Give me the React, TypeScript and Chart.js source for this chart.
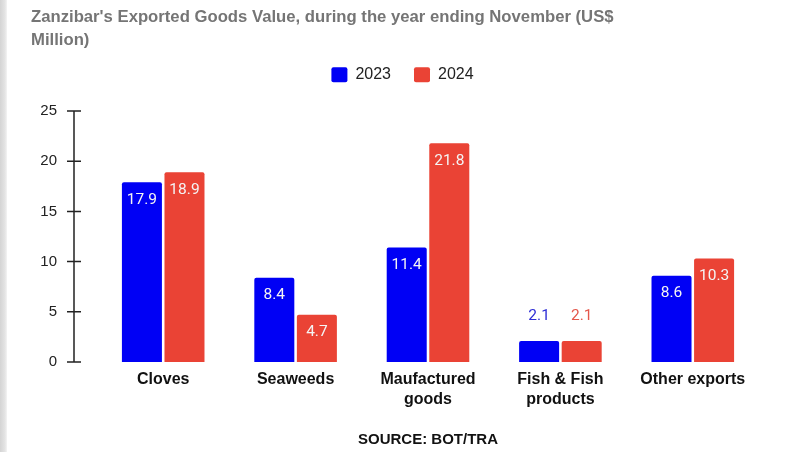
import React, { useEffect, useRef } from "react";
import { Chart, registerables } from "chart.js";

Chart.register(...registerables);

const categories: (string | string[])[] = [
  "Cloves",
  "Seaweeds",
  ["Maufactured", "goods"],
  ["Fish & Fish", "products"],
  "Other exports",
];
const seriesLabels = ["2023", "2024"];
const values2023 = [17.9, 8.4, 11.4, 2.1, 8.6];
const values2024 = [18.9, 4.7, 21.8, 2.1, 10.3];
const yTicks = [0, 5, 10, 15, 20, 25];
const titleLines = [
  "Zanzibar's Exported Goods Value, during the year ending November (US$",
  "Million)",
];
const sourceText = "SOURCE: BOT/TRA";

const BLUE = "#0000f5";
const RED = "#ea4335";
const OUTSIDE_COLORS = ["#2d2dd6", "#e4574b"];
const SANS = "'Liberation Sans', Arial, sans-serif";

const yAxisLinePlugin = {
  id: "yAxisLine",
  afterDraw(chart: any) {
    const y = chart.scales.y;
    const ctx = chart.ctx;
    const x = chart.chartArea.left - 23;
    const top = y.getPixelForValue(yTicks[yTicks.length - 1]);
    const bottom = y.getPixelForValue(yTicks[0]);
    ctx.save();
    ctx.strokeStyle = "#222";
    ctx.lineWidth = 1.5;
    ctx.beginPath();
    ctx.moveTo(x, top);
    ctx.lineTo(x, bottom);
    yTicks.forEach((v) => {
      const py = y.getPixelForValue(v);
      ctx.moveTo(x - 7, py);
      ctx.lineTo(x + 7, py);
    });
    ctx.stroke();
    ctx.restore();
  },
};

const barValuesPlugin = {
  id: "barValues",
  afterDatasetsDraw(chart: any) {
    const ctx = chart.ctx;
    ctx.save();
    ctx.font = "15.5px Roboto, 'Liberation Sans', sans-serif";
    ctx.textAlign = "center";
    ctx.textBaseline = "middle";
    chart.data.datasets.forEach((ds: any, di: number) => {
      const meta = chart.getDatasetMeta(di);
      meta.data.forEach((bar: any, i: number) => {
        const v = ds.data[i] as number;
        const inside = v >= 3;
        ctx.fillStyle = inside ? "#f4f4f4" : OUTSIDE_COLORS[di];
        ctx.fillText(v.toFixed(1), bar.x, inside ? bar.y + 17.5 : bar.y - 25);
      });
    });
    ctx.restore();
  },
};

export default function App() {
  const ref = useRef<HTMLCanvasElement>(null);

  useEffect(() => {
    if (!ref.current) return;
    const chart = new Chart(ref.current, {
      type: "bar",
      data: {
        labels: categories,
        datasets: [
          {
            label: seriesLabels[0],
            data: values2023,
            backgroundColor: BLUE,
            borderRadius: 2,
            barPercentage: 0.94,
            categoryPercentage: 0.643,
          },
          {
            label: seriesLabels[1],
            data: values2024,
            backgroundColor: RED,
            borderRadius: 2,
            barPercentage: 0.94,
            categoryPercentage: 0.643,
          },
        ],
      },
      options: {
        animation: false,
        responsive: false,
        devicePixelRatio: 1,
        layout: { padding: { left: 24, right: 30, top: 0, bottom: 0 } },
        plugins: {
          title: {
            display: true,
            text: titleLines,
            align: "start",
            color: "#757575",
            font: { family: SANS, size: 16.7, weight: "bold", lineHeight: 23 / 16.7 },
            padding: { top: 5.5, bottom: -7.75 },
          },
          legend: {
            display: true,
            position: "top",
            align: "center",
            labels: {
              boxWidth: 16,
              boxHeight: 15,
              padding: 23,
              color: "#222",
              useBorderRadius: true,
              borderRadius: 2,
              font: { family: SANS, size: 16 },
            },
          },
          subtitle: {
            display: true,
            text: sourceText,
            position: "bottom",
            fullSize: false,
            color: "#111",
            font: { family: SANS, size: 15, weight: "bold", lineHeight: 1.2 },
            padding: { top: 14, bottom: 3 },
          },
          tooltip: { enabled: false },
        },
        scales: {
          x: {
            grid: { display: false, drawTicks: false },
            border: { display: false },
            ticks: {
              color: "#111",
              padding: 8,
              font: { family: SANS, size: 16, weight: "bold", lineHeight: 1.22 },
              maxRotation: 0,
            },
          },
          y: {
            min: 0,
            max: 26.82,
            grid: { display: false, drawTicks: false },
            border: { display: false },
            afterBuildTicks: (s: any) => {
              s.ticks = yTicks.map((v) => ({ value: v }));
            },
            afterFit: (s: any) => {
              s.width = 66;
            },
            ticks: {
              color: "#222",
              padding: 40,
              font: { family: SANS, size: 15 },
            },
          },
          r: {
            type: "linear",
            position: "right",
            display: true,
            grid: { display: false, drawTicks: false },
            border: { display: false },
            ticks: { display: false },
            afterFit: (s: any) => {
              s.width = 15;
            },
          },
        },
      },
      plugins: [yAxisLinePlugin, barValuesPlugin],
    } as any);
    return () => chart.destroy();
  }, []);

  return (
    <div
      style={{
        position: "absolute",
        left: 0,
        top: 0,
        width: 804,
        height: 452,
        background: "#fff",
        overflow: "hidden",
      }}
    >
      <div
        style={{
          position: "absolute",
          left: 0,
          top: 0,
          width: 7,
          height: 452,
          background: "linear-gradient(to right, #d4d4d4, #e4e4e4 70%, #f4f4f4)",
        }}
      />
      <canvas
        ref={ref}
        width={797}
        height={452}
        style={{ position: "absolute", left: 7, top: 0, width: 797, height: 452 }}
      />
    </div>
  );
}
